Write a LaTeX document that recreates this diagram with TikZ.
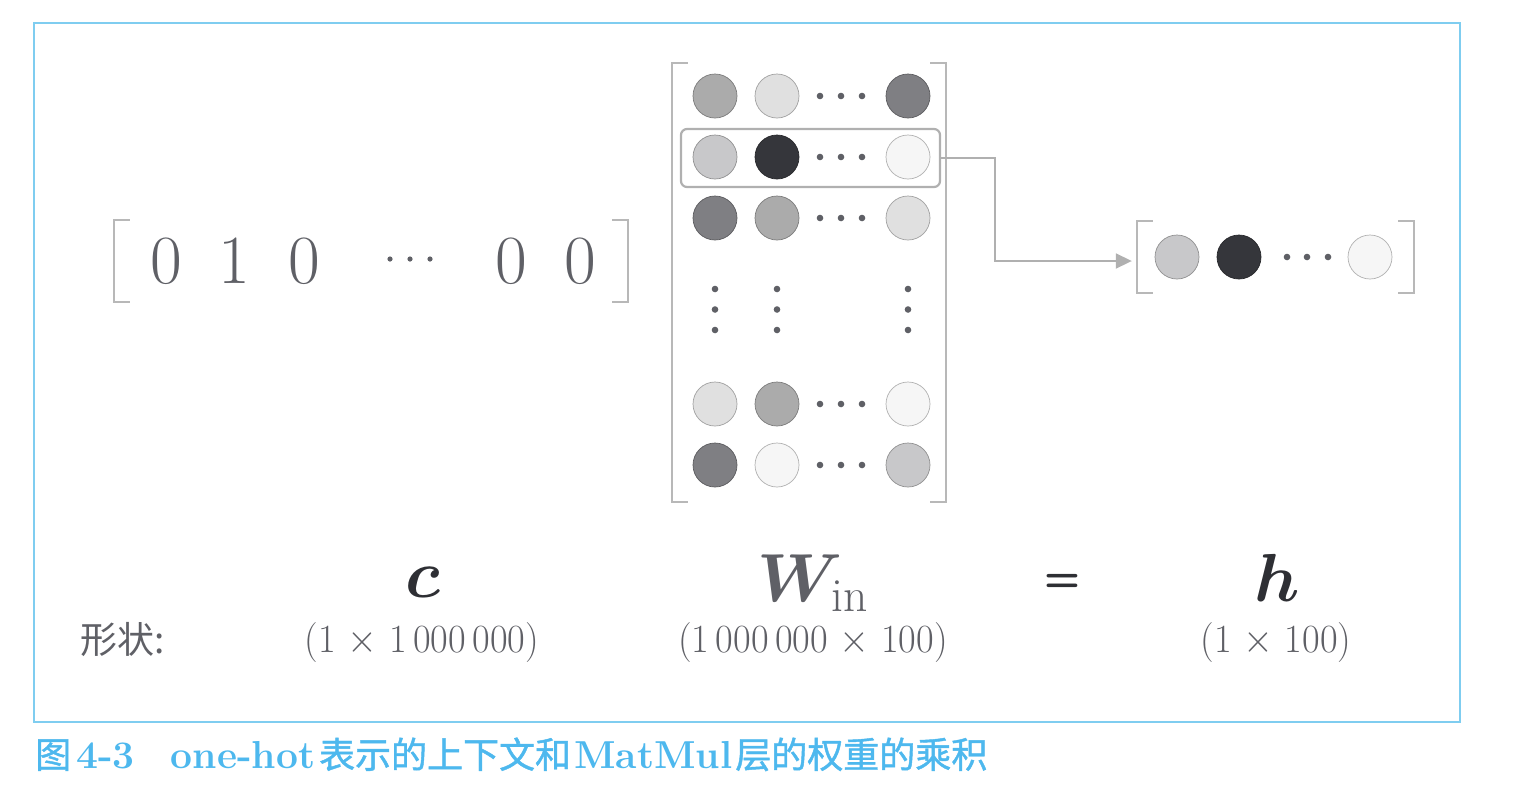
\RequirePackage{fix-cm}
\documentclass[tikz,border=0pt]{standalone}
\usepackage{amsmath,bm}
\usepackage{graphicx}
\usepackage{fontspec}
\newfontfamily\cjk{Noto Sans CJK SC}
\newfontfamily\cjkb{Noto Sans CJK SC}[FakeBold=1.2]
\usetikzlibrary{arrows.meta}
\definecolor{frameblue}{HTML}{7FCDF0}
\definecolor{capblue}{HTML}{4DB8EE}
\definecolor{txt}{HTML}{5F6066}
\definecolor{darktxt}{HTML}{2E2F34}
\definecolor{brk}{HTML}{B8B8B8}
\definecolor{hl}{HTML}{B0B0B0}
\definecolor{cA}{HTML}{ABABAB}
\definecolor{cB}{HTML}{E0E0E0}
\definecolor{cC}{HTML}{7F7F83}
\definecolor{cD}{HTML}{C8C8CA}
\definecolor{cE}{HTML}{35363B}
\definecolor{cF}{HTML}{F6F6F6}
\newcommand\latcap[1]{{\fontsize{39}{44}\selectfont\bfseries #1}}
\begin{document}
\begin{tikzpicture}[x=1pt,y=-1pt,
  cell/.style={circle, inner sep=0pt, minimum size=44pt, fill=#1, draw=#1!72!black, line width=0.7pt},
  box/.style={inner sep=0pt, draw=none},
  brkline/.style={draw=brk, line width=1.5pt},
  conn/.style={draw=hl, line width=1.8pt, -{Triangle[length=16pt,width=15pt]}},
  digit/.style={text=txt, anchor=base, inner sep=0pt, font=\fontsize{69}{80}\selectfont},
  dimlabel/.style={text=txt, anchor=base, inner sep=0pt, font=\fontsize{40}{48}\selectfont},
  sym/.style={anchor=base, inner sep=0pt, font=\fontsize{68}{80}\selectfont}
]
\useasboundingbox (0,0) rectangle (1534,788);
\fill[white] (0,0) rectangle (1534,788);
\draw[frameblue, line width=1.6pt] (34,23) rectangle (1460,722);

% ---- c vector ----
\node[box, minimum width=514pt, minimum height=82pt] (cvec) at (371,261) {};
\draw[brkline] ([xshift=16pt]cvec.north west) -- (cvec.north west) -- (cvec.south west) -- ([xshift=16pt]cvec.south west);
\draw[brkline] ([xshift=-16pt]cvec.north east) -- (cvec.north east) -- (cvec.south east) -- ([xshift=-16pt]cvec.south east);
\node[digit] (c1) at (166,283) {0};
\node[digit] (c2) at (234,283) {1};
\node[digit] (c3) at (304,283) {0};
\node[digit] (c4) at (511,283) {0};
\node[digit] (c5) at (580,283) {0};
\foreach \x in {390,410,430} \fill[txt] (\x,259) circle (2.6pt);

% ---- W matrix ----
\node[box, minimum width=274pt, minimum height=439pt] (W) at (809,282.5) {};
\draw[brkline] ([xshift=16pt]W.north west) -- (W.north west) -- (W.south west) -- ([xshift=16pt]W.south west);
\draw[brkline] ([xshift=-16pt]W.north east) -- (W.north east) -- (W.south east) -- ([xshift=-16pt]W.south east);
\foreach \r/\y/\a/\b/\c in {1/96/cA/cB/cC, 2/157/cD/cE/cF, 3/218/cC/cA/cB, 4/404/cB/cA/cF, 5/465/cC/cF/cD} {
  \node[cell=\a] (w\r a) at (715,\y) {};
  \node[cell=\b] (w\r b) at (777,\y) {};
  \node[cell=\c] (w\r c) at (908,\y) {};
  \foreach \x in {820,841,862} \fill[txt] (\x,\y) circle (3.3pt);
}
\foreach \x in {715,777,908}
  \foreach \y in {289,309.5,330} \fill[txt] (\x,\y) circle (3.3pt);

% highlighted row
\node[draw=hl, rounded corners=6pt, line width=2.2pt, minimum width=259pt, minimum height=58pt, inner sep=0pt] (sel) at (810.5,158) {};

% ---- h vector ----
\node[box, minimum width=277pt, minimum height=72pt] (hvec) at (1275.5,257) {};
\draw[brkline] ([xshift=16pt]hvec.north west) -- (hvec.north west) -- (hvec.south west) -- ([xshift=16pt]hvec.south west);
\draw[brkline] ([xshift=-16pt]hvec.north east) -- (hvec.north east) -- (hvec.south east) -- ([xshift=-16pt]hvec.south east);
\node[cell=cD] (h1) at (1177,257) {};
\node[cell=cE] (h2) at (1239,257) {};
\node[cell=cF] (h3) at (1370,257) {};
\foreach \x in {1287,1307,1328} \fill[txt] (\x,257) circle (3.3pt);

% connector
\coordinate (bend) at (995,158);
\draw[conn, shorten >=5pt] (sel.east) -- (bend) |- ([yshift=-4pt]hvec.west);

% ---- labels ----
\node[sym, text=darktxt] (lc) at (423,597) {$\bm{c}$};
\node[sym, text=txt] (lW) at (813,601) {$\bm{W}_{\mathrm{in}}$};
\node[anchor=center, inner sep=0pt, text=darktxt, font=\fontsize{42}{50}\selectfont\sffamily\bfseries] (eq) at (1062,583) {=};
\node[sym, text=darktxt] (lh) at (1277,601) {$\bm{h}$};

\node[anchor=west, inner sep=0pt, text=txt, font=\fontsize{37}{44}\selectfont\cjk] (xz) at (80,640) {形状:};
\node[dimlabel] (s1) at (422,652) {\scalebox{0.96}[1]{(1 $\times$ 1\,000\,000)}};
\node[dimlabel] (s2) at (813,652) {\scalebox{0.96}[1]{(1\,000\,000 $\times$ 100)}};
\node[dimlabel] (s3) at (1276,652) {\scalebox{0.96}[1]{(1 $\times$ 100)}};

% ---- caption ----
\node[anchor=base west, inner sep=0pt, text=capblue, font=\fontsize{36}{42}\selectfont] (cap) at (35,768)
  {{\cjkb 图}\hspace{5pt}\latcap{4-3}\hspace{36pt}\latcap{one-hot}\hspace{4pt}{\cjkb 表示的上下文和}\hspace{3pt}\latcap{MatMul}\hspace{3pt}{\cjkb 层的权重的乘积}};
\end{tikzpicture}
\end{document}
